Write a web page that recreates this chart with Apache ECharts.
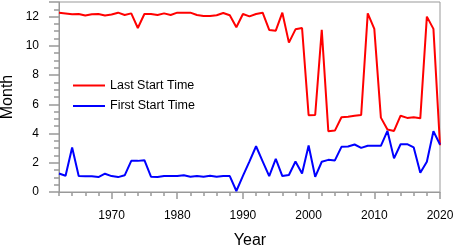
<!DOCTYPE html>
<html lang="en">
<head>
	<meta charset="UTF-8">
	<title>Start Time</title>
	<script src="https://cdn.jsdelivr.net/npm/echarts@6/dist/echarts.min.js"></script>
</head>
<body style="margin:0">
	<div id="chart" style="width: 457px; height: 250px;"></div>

	<script>
		var years = [1962, 1963, 1964, 1965, 1966, 1967, 1968, 1969, 1970, 1971,
			1972, 1973, 1974, 1975, 1976, 1977, 1978, 1979, 1980, 1981,
			1982, 1983, 1984, 1985, 1986, 1987, 1988, 1989, 1990, 1991,
			1992, 1993, 1994, 1995, 1996, 1997, 1998, 1999, 2000, 2001,
			2002, 2003, 2004, 2005, 2006, 2007, 2008, 2009, 2010, 2011,
			2012, 2013, 2014, 2015, 2016, 2017, 2018, 2019, 2020];

		// last start time (red)
		var lastStart = [12.27, 12.22, 12.16, 12.18, 12.07, 12.16, 12.18, 12.07, 12.14, 12.27,
			12.11, 12.22, 11.22, 12.18, 12.18, 12.11, 12.22, 12.11, 12.27, 12.27,
			12.27, 12.11, 12.04, 12.04, 12.09, 12.25, 12.09, 11.27, 12.18, 12.02,
			12.18, 12.27, 11.09, 11.04, 12.27, 10.22, 11.13, 11.22, 5.25, 5.27,
			11.09, 4.16, 4.2, 5.11, 5.15, 5.22, 5.27, 12.22, 11.16, 5.09,
			4.27, 4.18, 5.22, 5.07, 5.11, 5.04, 12.0, 11.16, 3.2];

		// first start time (blue)
		var firstStart = [1.27, 1.11, 3.05, 1.09, 1.08, 1.07, 1.02, 1.25, 1.09, 1.02,
			1.14, 2.13, 2.13, 2.18, 1.05, 1.02, 1.09, 1.09, 1.09, 1.14,
			1.05, 1.09, 1.05, 1.11, 1.05, 1.09, 1.09, 0.07, 1.1, 2.1,
			3.13, 2.1, 1.09, 2.27, 1.09, 1.16, 2.09, 1.27, 3.18, 1.04,
			2.07, 2.2, 2.16, 3.09, 3.11, 3.25, 3.02, 3.16, 3.16, 3.16,
			4.18, 2.3, 3.27, 3.27, 3.05, 1.32, 2.07, 4.16, 3.25];

		var font = "'Liberation Sans', Arial, sans-serif";
		var gray = '#999';

		var chart = echarts.init(document.getElementById('chart'));
		chart.setOption({
			animation: false,
			grid: { left: 59, right: 17, top: 2, bottom: 58, show: true, borderColor: gray },
			legend: {
				orient: 'vertical',
				left: 73, top: 78, padding: 0,
				icon: 'rect',
				itemWidth: 32, itemHeight: 2, itemGap: 5.5,
				textStyle: { fontFamily: font, fontSize: 12.5, color: '#000', lineHeight: 15 },
				data: ['Last Start Time', 'First Start Time']
			},
			// axis titles
			graphic: [
				{ type: 'text', x: 250, y: 241, style: { text: 'Year', fill: '#000', font: '16px ' + font, align: 'center', verticalAlign: 'middle' } },
				{ type: 'text', x: 8, y: 97, rotation: Math.PI / 2, style: { text: 'Month', fill: '#000', font: '16px ' + font, align: 'center', verticalAlign: 'middle' } }
			],
			xAxis: [{
				type: 'category', data: years, boundaryGap: false,
				axisLine: { show: true, lineStyle: { color: gray } },
				axisTick: { show: true, length: 4, lineStyle: { color: gray, width: 1.5 },
					interval: function (i, v) { return v % 2 === 0; } },
				axisLabel: { margin: 18, fontFamily: font, fontSize: 12, color: '#000',
					interval: function (i, v) { return v % 10 === 0; } }
			}, {
				// longer ticks at decades
				type: 'category', data: years, boundaryGap: false, position: 'bottom',
				axisLine: { show: false },
				axisTick: { show: true, length: 7, lineStyle: { color: gray, width: 1.5 },
					interval: function (i, v) { return v % 10 === 0; } },
				axisLabel: { show: false }
			}],
			yAxis: [{
				type: 'value', min: 0, max: 13, interval: 0.5,
				axisLine: { show: true, lineStyle: { color: gray } },
				axisTick: { show: true, length: 5, lineStyle: { color: gray, width: 1.5 } },
				axisLabel: { margin: 20, fontFamily: font, fontSize: 12, color: '#000',
					formatter: function (v) { return v % 2 === 0 ? String(v) : ''; } },
				splitLine: { show: false }
			}, {
				// longer major ticks
				type: 'value', min: 0, max: 13, interval: 2, position: 'left',
				axisLine: { show: false },
				axisTick: { show: true, length: 10, lineStyle: { color: gray, width: 1.5 } },
				axisLabel: { show: false }, splitLine: { show: false }
			}],
			series: [
				{ name: 'Last Start Time', type: 'line', symbol: 'none', data: lastStart,
					color: '#ff0000', lineStyle: { width: 2, color: '#ff0000' } },
				{ name: 'First Start Time', type: 'line', symbol: 'none', data: firstStart,
					color: '#0000ff', lineStyle: { width: 2, color: '#0000ff' } }
			]
		});
	</script>
</body>
</html>
